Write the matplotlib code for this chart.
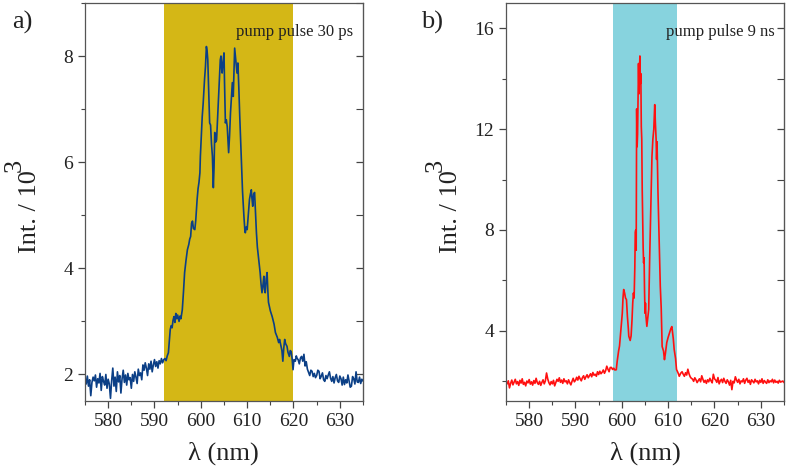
import numpy as np
import matplotlib
matplotlib.use("Agg")
import matplotlib.pyplot as plt
from matplotlib.ticker import MultipleLocator

plt.rcParams["font.family"] = ["Liberation Serif", "DejaVu Serif"]

# ---- data panel a (pump pulse 30 ps) ----
wl_a_left = np.arange(575.0, 592.01, 0.25)
int_a_left = [1.93, 1.82, 1.97, 1.78, 1.90, 1.60, 1.85, 1.95, 1.88, 1.99, 1.76, 1.92,
              1.84, 2.02, 1.70, 1.96, 1.87, 1.80, 2.00, 1.74, 1.91, 1.82, 1.55, 1.88,
              2.12, 1.78, 1.95, 1.68, 2.05, 1.86, 1.98, 1.65, 1.92, 2.08, 1.85, 1.99,
              1.80, 2.02, 1.90, 1.94, 1.74, 2.00, 1.87, 2.05, 1.95, 1.83, 2.10, 1.98,
              2.03, 1.90, 2.18, 2.08, 2.22, 2.12, 1.98, 2.20, 2.10, 2.25, 2.05, 2.18,
              2.28, 2.15, 2.24, 2.12, 2.26, 2.20, 2.30, 2.22, 2.28]
wl_a_peak = [592.25, 592.5, 592.75, 593.0, 593.2, 593.4, 593.6, 593.8, 594.0, 594.2,
             594.4, 594.6, 594.8, 595.0, 595.3, 595.5, 595.7, 596.0, 596.25, 596.5,
             596.8, 597.1, 597.4, 597.6, 597.8, 598.0, 598.2, 598.4, 598.7, 598.9,
             599.2, 599.4, 599.6, 599.8, 599.9, 600.1, 600.3, 600.5, 600.8, 601.0,
             601.2, 601.35, 601.5, 601.7, 601.9, 602.1, 602.3, 602.5, 602.7, 602.85,
             603.0, 603.2, 603.4, 603.6, 603.9, 604.05, 604.2, 604.35, 604.5, 604.6,
             604.8, 605.0, 605.1, 605.3, 605.5, 605.7, 606.0, 606.2, 606.4, 606.6,
             606.8, 607.0, 607.15, 607.3, 607.45, 607.6, 607.8, 608.0, 608.2, 608.4,
             608.6, 608.8, 609.0, 609.3, 609.5, 609.6, 609.8, 610.0, 610.2, 610.5,
             610.7, 610.9, 611.0, 611.2, 611.4, 611.6, 611.8, 612.0, 612.2, 612.5,
             612.8, 613.0, 613.2, 613.4, 613.6, 613.75, 613.9, 614.1, 614.3, 614.45,
             614.6, 615.0, 615.4, 615.8, 616.1, 616.5, 616.8, 617.0, 617.3, 617.5,
             617.7, 617.9, 618.1, 618.3, 618.6, 618.8, 619.1, 619.3, 619.5, 619.7,
             619.9, 620.1, 620.4, 620.6, 620.8, 621.0]
int_a_peak = [2.30, 2.26, 2.35, 2.41, 2.62, 2.85, 2.92, 2.88, 3.02, 3.09,
              2.98, 3.15, 3.05, 3.12, 3.00, 3.10, 3.05, 3.22, 3.55, 3.92,
              4.15, 4.35, 4.45, 4.55, 4.60, 4.85, 4.89, 4.75, 4.73, 4.90,
              5.30, 5.50, 5.62, 5.80, 6.11, 6.50, 6.86, 7.10, 7.56, 7.80,
              8.18, 8.10, 7.93, 7.30, 6.74, 6.70, 6.35, 6.11, 5.52, 5.90,
              6.56, 6.38, 6.42, 6.80, 7.37, 7.70, 7.93, 8.00, 7.75, 7.68,
              7.90, 8.06, 7.56, 6.74, 6.80, 6.67, 6.18, 6.50, 6.93, 7.20,
              7.50, 7.24, 7.70, 8.15, 8.00, 7.87, 7.68, 7.87, 7.40, 6.86,
              6.40, 5.92, 5.45, 4.98, 4.72, 4.67, 4.78, 4.73, 4.95, 5.30,
              5.40, 5.48, 5.35, 5.17, 5.40, 5.43, 5.05, 4.67, 4.40, 4.16,
              3.92, 3.70, 3.54, 3.68, 3.85, 3.60, 3.54, 3.80, 3.92, 3.60,
              3.36, 3.20, 3.09, 2.95, 2.79, 2.70, 2.60, 2.66, 2.53, 2.45,
              2.25, 2.50, 2.66, 2.58, 2.53, 2.42, 2.34, 2.45, 2.43, 2.30,
              2.09, 2.28, 2.25, 2.35, 2.30, 2.28]
wl_a_right = np.arange(621.25, 635.01, 0.25)
int_a_right = [2.20, 2.31, 2.34, 2.25, 2.38, 2.16, 2.24, 2.10, 2.04, 1.98, 2.08, 2.06,
               1.96, 2.02, 1.94, 1.98, 2.08, 2.06, 1.92, 1.97, 2.03, 1.90, 1.87, 1.98,
               1.92, 1.99, 2.05, 1.93, 1.87, 1.96, 1.84, 1.94, 2.00, 1.88, 1.85, 1.97,
               1.92, 1.80, 1.95, 1.81, 1.90, 1.84, 1.99, 1.88, 1.76, 1.78, 1.96, 1.92,
               1.82, 2.05, 1.86, 1.85, 1.95, 1.83, 1.91, 1.88]

# ---- data panel b (pump pulse 9 ns) ----
wl_b_left = np.arange(575.0, 597.51, 0.25)
int_b_left = [1.98, 1.90, 2.02, 1.74, 1.92, 2.05, 1.86, 1.97, 2.08, 1.90, 1.99, 1.84,
              2.04, 1.93, 2.10, 1.88, 1.96, 1.82, 2.01, 1.94, 2.07, 1.89, 1.98, 1.85,
              2.03, 1.92, 2.12, 1.95, 1.88, 2.00, 1.84, 1.96, 2.06, 1.90, 2.02, 2.33,
              2.10, 1.95, 1.86, 1.99, 1.90, 2.04, 1.82, 1.95, 2.08, 2.00, 2.14, 1.96,
              2.05, 1.92, 2.10, 1.98, 2.02, 1.90, 2.06, 1.95, 1.86, 2.00, 2.12, 1.98,
              2.04, 2.16, 2.05, 2.20, 2.10, 2.02, 2.15, 2.22, 2.08, 2.18, 2.26, 2.14,
              2.22, 2.30, 2.18, 2.35, 2.24, 2.28, 2.20, 2.38, 2.27, 2.40, 2.30, 2.36,
              2.45, 2.32, 2.42, 2.60, 2.48, 2.38, 2.55]
wl_b_peak = [597.75, 598.0, 598.25, 598.5, 598.8, 599.0, 599.3, 599.5, 599.8, 600.1,
             600.25, 600.4, 600.6, 600.8, 601.0, 601.2, 601.4, 601.5, 601.65, 601.8,
             602.0, 602.2, 602.35, 602.5, 602.65, 602.8, 602.9, 603.0, 603.1, 603.2,
             603.3, 603.4, 603.5, 603.6, 603.7, 603.8, 603.9, 604.0, 604.1, 604.2,
             604.3, 604.4, 604.5, 604.6, 604.7, 604.8, 604.9, 605.0, 605.1, 605.2,
             605.4, 605.6, 605.8, 606.0, 606.3, 606.5, 606.7, 606.9, 607.1, 607.25,
             607.4, 607.5, 607.6, 607.8, 608.0, 608.3, 608.5, 608.7, 609.0, 609.2,
             609.4, 609.7, 610.0, 610.3, 610.6, 610.8, 611.1, 611.3, 611.6, 611.8,
             612.1, 612.4, 612.7, 613.0]
int_b_peak = [2.55, 2.47, 2.52, 2.45, 2.46, 2.80, 3.20, 3.40, 4.05, 4.70,
              5.30, 5.64, 5.50, 5.30, 5.24, 4.58, 4.10, 3.79, 3.70, 3.62,
              3.80, 4.45, 5.10, 5.50, 5.30, 6.50, 7.90, 8.00, 7.20, 12.8,
              11.3, 11.8, 13.2, 14.6, 13.4, 14.3, 14.9, 13.8, 14.2, 12.1,
              11.6, 9.60, 8.50, 7.30, 6.70, 6.90, 5.60, 4.70, 5.10, 4.60,
              4.18, 4.50, 4.85, 6.80, 9.20, 10.9, 11.6, 12.0, 12.97, 12.2,
              11.6, 10.8, 11.5, 9.50, 8.00, 5.77, 4.90, 3.38, 3.20, 2.86,
              3.10, 3.54, 3.75, 3.93, 4.10, 4.17, 3.70, 3.26, 2.90, 2.47,
              2.35, 2.20, 2.32, 2.38]
wl_b_right = np.arange(613.25, 635.01, 0.25)
int_b_right = [2.28, 2.20, 2.34, 2.25, 2.48, 2.30, 2.18, 2.12, 2.09, 2.00, 2.14, 2.06,
               1.95, 2.03, 2.10, 1.98, 2.22, 2.08, 1.96, 2.04, 1.92, 2.06, 1.98, 2.12,
               2.02, 1.94, 2.28, 2.10, 2.05, 1.96, 2.15, 1.90, 2.02, 2.08, 1.95, 2.12,
               2.00, 1.92, 2.06, 1.98, 1.85, 2.04, 1.67, 2.00, 1.94, 2.18, 2.05, 1.96,
               2.08, 1.90, 2.02, 1.98, 2.10, 1.92, 2.05, 2.12, 1.96, 2.04, 1.88, 2.06,
               2.00, 1.94, 2.08, 1.98, 2.02, 1.90, 2.04, 1.96, 2.10, 1.92, 2.03, 1.97,
               1.92, 2.06, 1.95, 2.02, 1.98, 2.08, 1.94, 2.05, 1.96, 2.00, 1.93, 2.04,
               1.97, 1.99, 2.01, 1.96]

wl_a = np.concatenate([wl_a_left, wl_a_peak, wl_a_right])
int_a = np.concatenate([int_a_left, int_a_peak, int_a_right])
wl_b = np.concatenate([wl_b_left, wl_b_peak, wl_b_right])
int_b = np.concatenate([int_b_left, int_b_peak, int_b_right])

band_a = (592, 620)
band_b = (598, 612)

fig = plt.figure(figsize=(7.87, 4.68), dpi=100)
ax_a = fig.add_axes([85 / 787, 1 - 401 / 468, 278 / 787, 398 / 468])
ax_b = fig.add_axes([506 / 787, 1 - 401 / 468, 278 / 787, 398 / 468])

text_col = "#222222"


def style(ax, ylim, major, minor, band, band_col, wl, inten, line_col, note):
    ax.axvspan(band[0], band[1], color=band_col, lw=0, zorder=0)
    ax.plot(wl, inten, color=line_col, lw=1.2, zorder=2)
    ax.set_xlim(575, 635)
    ax.set_ylim(*ylim)
    ax.xaxis.set_major_locator(MultipleLocator(10))
    ax.xaxis.set_minor_locator(MultipleLocator(5))
    ax.yaxis.set_major_locator(MultipleLocator(major))
    ax.yaxis.set_minor_locator(MultipleLocator(minor))
    ax.tick_params(which="both", direction="out", colors="#444444",
                   labelcolor=text_col, labelsize=14, top=False, right=False)
    ax.tick_params(which="major", length=5, width=0.9)
    ax.tick_params(which="minor", length=3, width=0.8)
    for s in ax.spines.values():
        s.set_color("#555555")
        s.set_linewidth(0.9)
    sec = ax.secondary_yaxis("right")
    sec.yaxis.set_major_locator(MultipleLocator(major))
    sec.yaxis.set_minor_locator(MultipleLocator(minor))
    sec.tick_params(which="both", direction="in", labelright=False, colors="#444444")
    sec.tick_params(which="major", length=5, width=0.9)
    sec.tick_params(which="minor", length=5, width=0.8)
    sec.spines["right"].set_color("#555555")
    ax.text(0.965, 0.927, note, transform=ax.transAxes, ha="right", va="center",
            fontsize=12, color=text_col)


style(ax_a, (1.5, 9.0), 2, 1, band_a, "#d4b716", wl_a, int_a, "#0b3f86",
      "pump pulse 30 ps")
style(ax_b, (1.22, 17.0), 4, 2, band_b, "#87d3de", wl_b, int_b, "#ff1010",
      "pump pulse 9 ns")

# axis labels and panel tags
for xc, yc_lab, yc_sup, xs in [(30, 212, 165, 15), (451, 212, 165, 436)]:
    fig.text(xc / 787, 1 - yc_lab / 468, "Int. / 10", rotation=90,
             ha="center", va="center", fontsize=19, color=text_col)
    fig.text(xs / 787, 1 - yc_sup / 468, "3", rotation=90,
             ha="center", va="center", fontsize=19, color=text_col)
fig.text(223 / 787, 1 - 453 / 468, "λ (nm)", ha="center", va="center",
         fontsize=19, color=text_col)
fig.text(645 / 787, 1 - 453 / 468, "λ (nm)", ha="center", va="center",
         fontsize=19, color=text_col)
fig.text(22 / 787, 1 - 22 / 468, "a)", ha="center", va="center",
         fontsize=19, color=text_col)
fig.text(432 / 787, 1 - 22 / 468, "b)", ha="center", va="center",
         fontsize=19, color=text_col)

fig.savefig("out.png", dpi=100)
